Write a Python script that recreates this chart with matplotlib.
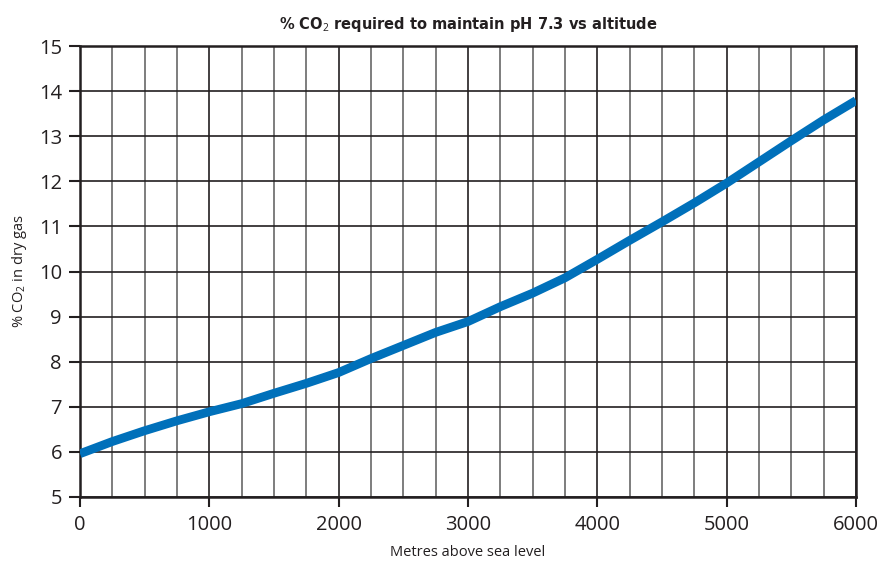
import matplotlib
matplotlib.use("Agg")
import matplotlib.pyplot as plt
from matplotlib.ticker import MultipleLocator

# Altitude (m) and % CO2 in dry gas needed to hold pH at 7.3
altitude_m = [0, 250, 500, 750, 1000, 1250, 1500, 1750, 2000, 2250, 2500,
              2750, 3000, 3250, 3500, 3750, 4000, 4250, 4500, 4750, 5000,
              5250, 5500, 5750, 6000]
co2_pct = [5.96, 6.23, 6.47, 6.69, 6.89, 7.07, 7.30, 7.52, 7.76, 8.07, 8.36,
           8.65, 8.89, 9.22, 9.52, 9.86, 10.27, 10.69, 11.10, 11.52, 11.96,
           12.43, 12.90, 13.36, 13.79]

x_ticks = [0, 1000, 2000, 3000, 4000, 5000, 6000]
y_ticks = list(range(5, 16))

plt.rcParams["font.family"] = ["Open Sans", "DejaVu Sans"]
plt.rcParams["mathtext.fontset"] = "custom"
plt.rcParams["mathtext.rm"] = "Open Sans"

ink = "#231f20"

fig = plt.figure(figsize=(8.87, 5.65), dpi=100)
ax = fig.add_axes([80 / 887, 68 / 565, 776 / 887, 451 / 565])

ax.set_xlim(0, 6000)
ax.set_ylim(5, 15)
ax.set_xticks(x_ticks)
ax.set_yticks(y_ticks)
ax.xaxis.set_minor_locator(MultipleLocator(250))

ax.grid(which="major", axis="both", color=ink, linewidth=1.2)
ax.grid(which="minor", axis="x", color="#5a5a5a", linewidth=1.1)
ax.tick_params(axis="x", which="minor", length=0)
ax.tick_params(axis="x", which="major", length=7, width=1.5, color=ink,
               labelsize=14.5, labelcolor=ink, pad=6)
ax.tick_params(axis="y", which="major", length=8, width=1.5, color=ink,
               labelsize=14.5, labelcolor=ink, pad=5)
ax.set_axisbelow(True)

for spine in ax.spines.values():
    spine.set_color(ink)
    spine.set_linewidth(1.8)

ax.plot(altitude_m, co2_pct, color="#0070ba", linewidth=6.3,
        solid_capstyle="butt", solid_joinstyle="round", zorder=3, clip_on=True)

ax.set_title(r"% CO$_2$ required to maintain pH 7.3 vs altitude",
             fontsize=10.5, fontweight="bold", color=ink, pad=12,
             family=["Liberation Sans Narrow", "DejaVu Sans"])
ax.set_xlabel("Metres above sea level", fontsize=10.5, color=ink, labelpad=7)
ax.set_ylabel(r"% CO$_2$ in dry gas", fontsize=10.5, color=ink, labelpad=7)

fig.savefig("out.png", dpi=100)
